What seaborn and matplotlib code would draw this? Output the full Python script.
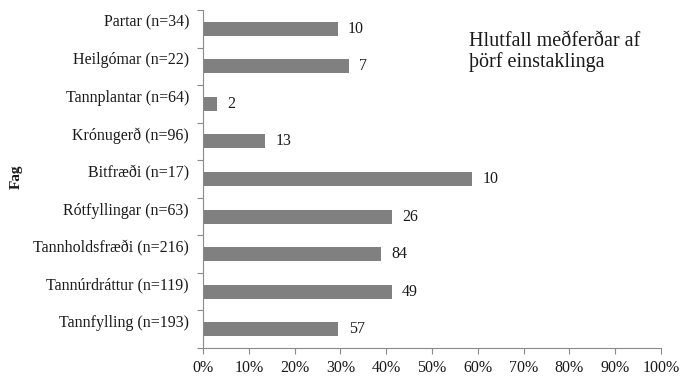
import matplotlib
matplotlib.use("Agg")
import matplotlib.pyplot as plt
import matplotlib.transforms as mtransforms
from matplotlib.ticker import FixedLocator, PercentFormatter
import seaborn as sns
import pandas as pd

# Subjects, number of individuals needing treatment (n) and number treated
subjects = ["Partar", "Heilgómar", "Tannplantar", "Krónugerð", "Bitfræði",
            "Rótfyllingar", "Tannholdsfræði", "Tannúrdráttur", "Tannfylling"]
sample_sizes = [34, 22, 64, 96, 17, 63, 216, 119, 193]
treated = [10, 7, 2, 13, 10, 26, 84, 49, 57]
x_ticks = [0.0, 0.1, 0.2, 0.3, 0.4, 0.5, 0.6, 0.7, 0.8, 0.9, 1.0]

sns.set_theme(style="white")
plt.rcParams["font.family"] = ["Liberation Serif", "DejaVu Serif"]

labels = [f"{s} (n={n})" for s, n in zip(subjects, sample_sizes)]
df = pd.DataFrame({
    "Fag": labels,
    "share": [t / n for t, n in zip(treated, sample_sizes)],
    "count": treated,
})

W, H = 683, 376
fig = plt.figure(figsize=(W / 100, H / 100), dpi=100)
ax = fig.add_axes([203 / W, 1 - 348 / H, (661 - 203) / W, 338 / H])

sns.barplot(data=df, x="share", y="Fag", order=labels, orient="h",
            color="#808080", saturation=1, width=0.37, errorbar=None,
            linewidth=0, ax=ax)

ax.bar_label(ax.containers[0], labels=[str(c) for c in df["count"]],
             padding=7.5, fontsize=11.5, color="#1a1a1a")

axis_grey = "#8a8a8a"
text_col = "#1a1a1a"

ax.set_xlim(0, 1)
ax.set_ylim(len(labels) - 0.5, -0.5)
ax.xaxis.set_major_locator(FixedLocator(x_ticks))
ax.xaxis.set_major_formatter(PercentFormatter(1.0, decimals=0))
ax.set_xlabel("")

# category boundaries carry the tick marks, labels sit without marks
ax.yaxis.set_minor_locator(FixedLocator([i - 0.5 for i in range(len(labels) + 1)]))
ax.tick_params(axis="y", which="major", length=0, pad=10, labelsize=11.5,
               labelcolor=text_col)
ax.tick_params(axis="y", which="minor", left=True, length=4.5, width=0.8,
               color=axis_grey, direction="out")
ax.tick_params(axis="x", which="major", bottom=True, length=4.5, width=0.8,
               color=axis_grey, direction="out", pad=4, labelsize=11.5,
               labelcolor=text_col)

shift = mtransforms.ScaledTranslation(0, 8 / 100, fig.dpi_scale_trans)
for tick in ax.yaxis.get_major_ticks():
    tick.label1.set_transform(tick.label1.get_transform() + shift)

for side in ("top", "right"):
    ax.spines[side].set_visible(False)
for side in ("left", "bottom"):
    ax.spines[side].set_color(axis_grey)
    ax.spines[side].set_linewidth(0.8)

ax.set_ylabel("Fag", fontweight="bold", fontsize=11, color=text_col)
ax.yaxis.set_label_coords((23 - 203) / 458, (348 - 177) / 338)

# baseline alignment of a two-line text anchors the last line
fig.text(469 / W, 1 - 66.7 / H, "Hlutfall meðferðar af\nþörf einstaklinga",
         fontsize=14.5, color=text_col, ha="left", va="baseline",
         linespacing=1.05)

fig.savefig("out.png", dpi=100)
